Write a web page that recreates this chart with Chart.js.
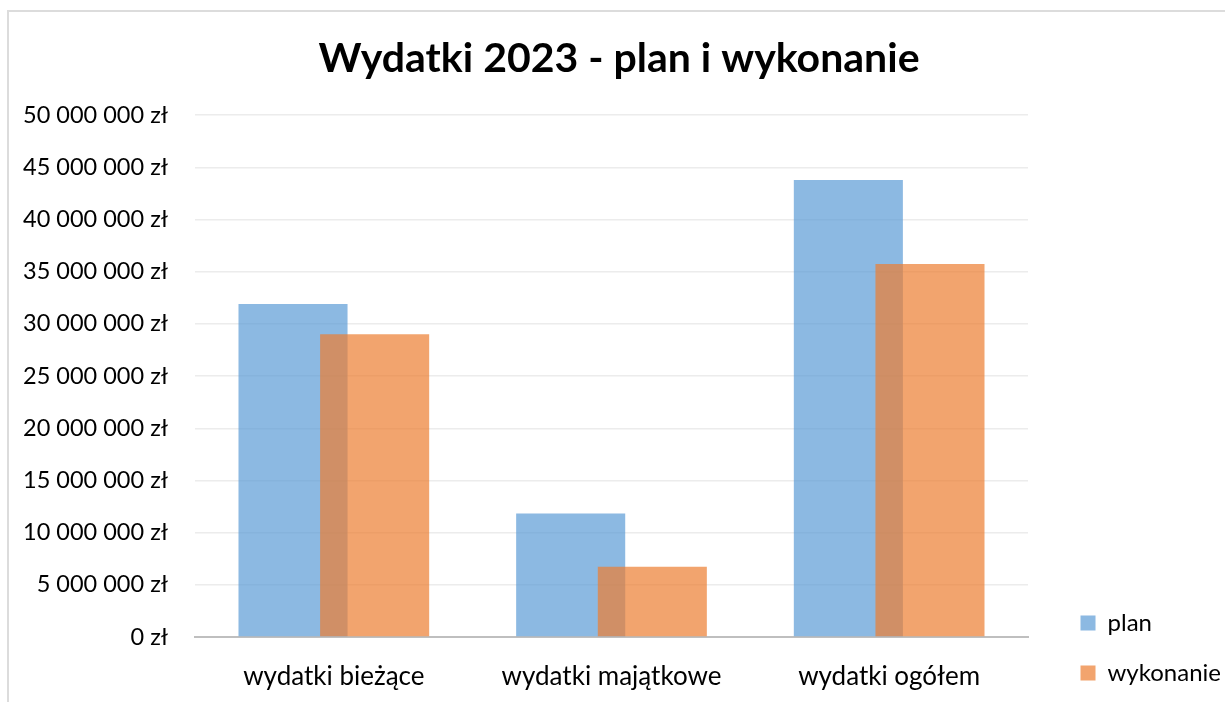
<!DOCTYPE html>
<html lang="pl">
<head>
<meta charset="utf-8">
<title>Wydatki 2023 - plan i wykonanie</title>
<script src="https://cdn.jsdelivr.net/npm/chart.js@4/dist/chart.umd.min.js"></script>
<style>
  html, body { margin: 0; padding: 0; background: #ffffff; overflow: hidden; }
  #wrap { position: relative; width: 1225px; height: 702px; }
  #frame { position: absolute; left: 7px; top: 10px; width: 1240px; height: 720px;
           border-top: 2px solid #dcdcdc; border-left: 2px solid #dcdcdc; box-sizing: border-box; }
  #chart { position: absolute; left: 0; top: 0; }
</style>
</head>
<body>
<div id="wrap">
  <div id="frame"></div>
  <canvas id="chart" width="1225" height="702"></canvas>
</div>
<script>
// ---- data ----
const chartTitle = 'Wydatki 2023 - plan i wykonanie';
const categories = ['wydatki bieżące', 'wydatki majątkowe', 'wydatki ogółem'];
const seriesNames = ['plan', 'wykonanie'];
const planValues = [31900000, 11830000, 43800000];
const executionValues = [29000000, 6720000, 35740000];
const yTickMax = 50000000;
const yTickStep = 5000000;
const currencySuffix = ' zł';

function formatPLN(v) {
  const s = Math.round(v).toString().replace(/\B(?=(\d{3})+(?!\d))/g, ' ');
  return s + currencySuffix;
}

// draw the second series on top of the first (as in the reference overlap)
const secondOnTop = {
  id: 'secondOnTop',
  beforeDatasetDraw(chart, args) {
    if (args.index === 1 && !chart.$drawingLate) return false;
  },
  afterDatasetsDraw(chart) {
    const meta = chart.getDatasetMeta(1);
    if (!meta.hidden) {
      chart.$drawingLate = true;
      meta.controller.draw();
      chart.$drawingLate = false;
    }
  }
};

const FONT = 'Lato, "Open Sans", "Noto Sans", sans-serif';
const PAD_LEFT = 7;
const PAD_RIGHT = -6;

new Chart(document.getElementById('chart'), {
  type: 'bar',
  data: {
    labels: categories,
    datasets: [
      { label: seriesNames[0], data: planValues,
        backgroundColor: 'rgba(91,155,213,0.7)', borderWidth: 0 },
      { label: seriesNames[1], data: executionValues,
        backgroundColor: 'rgba(237,125,49,0.7)', borderWidth: 0 }
    ]
  },
  options: {
    responsive: false,
    devicePixelRatio: 1,
    animation: false,
    layout: { padding: { left: PAD_LEFT, right: PAD_RIGHT, top: 0, bottom: -9 } },
    datasets: { bar: { categoryPercentage: 0.588, barPercentage: 1.336 } },
    plugins: {
      tooltip: { enabled: false },
      title: {
        display: true,
        text: chartTitle,
        color: '#000000',
        font: { family: FONT, size: 41, weight: 'bold', lineHeight: 1.2 },
        padding: { top: 34, bottom: 32 }
      },
      legend: {
        position: 'right',
        align: 'end',
        labels: {
          color: '#000000',
          font: { family: FONT, size: 24 },
          boxWidth: 15,
          boxHeight: 15,
          padding: 26
        }
      }
    },
    scales: {
      x: {
        grid: { display: false, drawTicks: false },
        border: { display: true, color: '#bfbfbf', width: 2 },
        ticks: { color: '#000000', font: { family: FONT, size: 26 }, padding: 24, maxRotation: 0 },
        afterFit(s) { s.height = 74; }
      },
      y: {
        min: 0,
        max: yTickMax,
        grid: {
          drawTicks: false,
          color: (ctx) => (ctx.tick && ctx.tick.value === 0) ? 'rgba(0,0,0,0)' : '#ececec',
          lineWidth: 1.5
        },
        border: { display: false },
        ticks: {
          stepSize: yTickStep,
          color: '#000000',
          font: { family: FONT, size: 23.5 },
          padding: 27,
          callback: (v) => formatPLN(v)
        },
        afterFit(s) { s.width = 195 - PAD_LEFT; }
      },
      gap: {
        position: 'right',
        display: true,
        grid: { display: false, drawTicks: false },
        border: { display: false },
        ticks: { display: false },
        afterFit(s) { s.width = Math.max(0, (1225 - PAD_RIGHT) - s.chart.legend.width - 1028); }
      }
    }
  },
  plugins: [secondOnTop]
});
</script>
</body>
</html>
